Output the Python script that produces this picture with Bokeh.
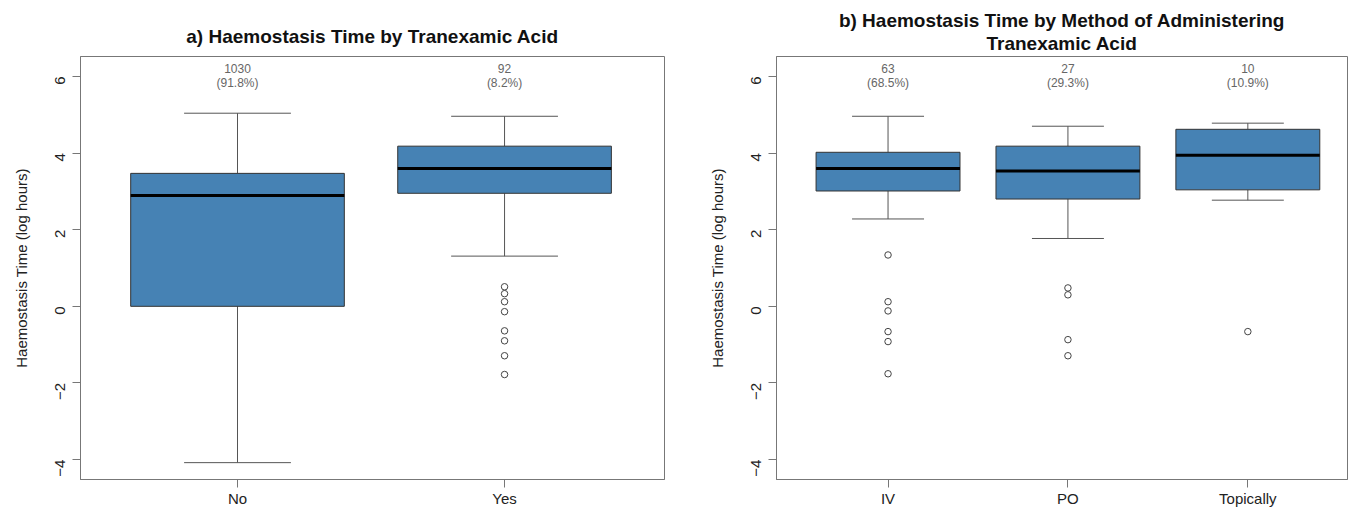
import math
from bokeh.plotting import figure
from bokeh.layouts import row
from bokeh.models import ColumnDataSource, FixedTicker, Range1d, Title
from bokeh.core.properties import value
from bokeh.embed import file_html
from bokeh.resources import INLINE

FONT = "Liberation Sans"

# ---- panel a data ----
a_cats = ["No", "Yes"]
a_counts = ["1030", "92"]
a_pcts = ["(91.8%)", "(8.2%)"]
a_low = [-4.08, 1.31]
a_q1 = [0.0, 2.95]
a_med = [2.89, 3.60]
a_q3 = [3.47, 4.18]
a_high = [5.04, 4.96]
a_out_group = ["Yes"] * 8
a_out_vals = [0.51, 0.33, 0.12, -0.14, -0.64, -0.90, -1.29, -1.78]

# ---- panel b data ----
b_cats = ["IV", "PO", "Topically"]
b_counts = ["63", "27", "10"]
b_pcts = ["(68.5%)", "(29.3%)", "(10.9%)"]
b_low = [2.28, 1.77, 2.77]
b_q1 = [3.01, 2.80, 3.04]
b_med = [3.60, 3.53, 3.94]
b_q3 = [4.02, 4.18, 4.62]
b_high = [4.96, 4.70, 4.78]
b_out_group = ["IV"] * 6 + ["PO"] * 4 + ["Topically"]
b_out_vals = [1.34, 0.12, -0.12, -0.66, -0.92, -1.76,
              0.48, 0.30, -0.87, -1.29,
              -0.66]

y_ticks = [-4, -2, 0, 2, 4, 6]

BOX_W = 0.8
CAP_W = 0.4
COUNT_Y = 6.21
PCT_Y = 5.84


def make_panel(cats, counts, pcts, low, q1, med, q3, high, out_group, out_vals,
               title, width, border_left, border_right, title_standoff, xr):
    n = len(cats)
    xs = list(range(1, n + 1))
    p = figure(width=width, height=509, output_backend="svg", toolbar_location=None,
               x_range=Range1d(*xr),
               y_range=Range1d(-4.52, 6.52),
               min_border_left=border_left, min_border_right=border_right,
               min_border_top=56, min_border_bottom=28)
    p.background_fill_color = "white"
    p.border_fill_color = "white"
    p.outline_line_color = "#777777"
    p.outline_line_width = 1
    p.xgrid.visible = False
    p.ygrid.visible = False

    p.add_layout(Title(text=title, align="center", text_align="center", text_font=FONT,
                       text_font_size="19px", text_font_style="bold", text_color="#111111",
                       standoff=title_standoff, text_line_height=1.1), "above")

    src = ColumnDataSource(dict(x=xs, low=low, q1=q1, med=med, q3=q3, high=high,
                                left=[x - BOX_W / 2 for x in xs], right=[x + BOX_W / 2 for x in xs],
                                cl=[x - CAP_W / 2 for x in xs], cr=[x + CAP_W / 2 for x in xs],
                                counts=counts, pcts=pcts))
    # whiskers
    p.segment(x0="x", y0="q3", x1="x", y1="high", source=src, line_color="#555555", line_width=1)
    p.segment(x0="x", y0="low", x1="x", y1="q1", source=src, line_color="#555555", line_width=1)
    p.segment(x0="cl", y0="high", x1="cr", y1="high", source=src, line_color="#555555", line_width=1)
    p.segment(x0="cl", y0="low", x1="cr", y1="low", source=src, line_color="#555555", line_width=1)
    # boxes
    p.quad(left="left", right="right", bottom="q1", top="q3", source=src,
           fill_color="#4682B4", line_color="#333333", line_width=1)
    # medians
    p.segment(x0="left", y0="med", x1="right", y1="med", source=src, line_color="#000000", line_width=3)

    # outliers
    ox = [xs[cats.index(g)] for g in out_group]
    p.scatter(x=ox, y=out_vals, marker="circle", size=6.5, fill_color=None,
              line_color="#444444", line_width=1)

    # counts
    p.text(x="x", y=value(COUNT_Y), text="counts", source=src, text_align="center",
           text_baseline="middle", text_font=value(FONT), text_font_size=value("12px"),
           text_color="#666666")
    p.text(x="x", y=value(PCT_Y), text="pcts", source=src, text_align="center",
           text_baseline="middle", text_font=value(FONT), text_font_size=value("12px"),
           text_color="#666666")

    # axes
    p.xaxis.ticker = FixedTicker(ticks=xs)
    p.xaxis.major_label_overrides = {x: c for x, c in zip(xs, cats)}
    p.xaxis.axis_line_color = "#777777"
    p.xaxis.major_tick_line_color = "#777777"
    p.xaxis.major_tick_out = 8
    p.xaxis.major_tick_in = 0
    p.xaxis.minor_tick_line_color = None
    p.xaxis.major_label_standoff = 2
    p.xaxis.major_label_text_font = FONT
    p.xaxis.major_label_text_font_size = "15px"
    p.xaxis.major_label_text_color = "#222222"

    p.yaxis.ticker = FixedTicker(ticks=y_ticks)
    p.yaxis.axis_line_color = "#777777"
    p.yaxis.major_tick_line_color = "#777777"
    p.yaxis.major_tick_out = 8
    p.yaxis.major_tick_in = 0
    p.yaxis.minor_tick_line_color = None
    p.yaxis.major_label_orientation = math.pi / 2
    p.yaxis.major_label_standoff = 12
    p.yaxis.major_label_text_font = FONT
    p.yaxis.major_label_text_font_size = "15px"
    p.yaxis.major_label_text_color = "#222222"
    p.yaxis.axis_label = "Haemostasis Time (log hours)"
    p.yaxis.axis_label_text_font = FONT
    p.yaxis.axis_label_text_font_size = "15px"
    p.yaxis.axis_label_text_font_style = "normal"
    p.yaxis.axis_label_text_color = "#222222"
    p.yaxis.axis_label_standoff = 18
    return p


pa = make_panel(a_cats, a_counts, a_pcts, a_low, a_q1, a_med, a_q3, a_high, a_out_group, a_out_vals,
                "a) Haemostasis Time by Tranexamic Acid", 700, 80, 36, 20, (0.412, 2.599))
pb = make_panel(b_cats, b_counts, b_pcts, b_low, b_q1, b_med, b_q3, b_high, b_out_group, b_out_vals,
                "b) Haemostasis Time by Method of Administering\nTranexamic Acid", 648, 76, 1, 5,
                (0.38, 3.554))

layout = row(pa, pb)
open("out.html", "w").write(file_html(layout, INLINE))
